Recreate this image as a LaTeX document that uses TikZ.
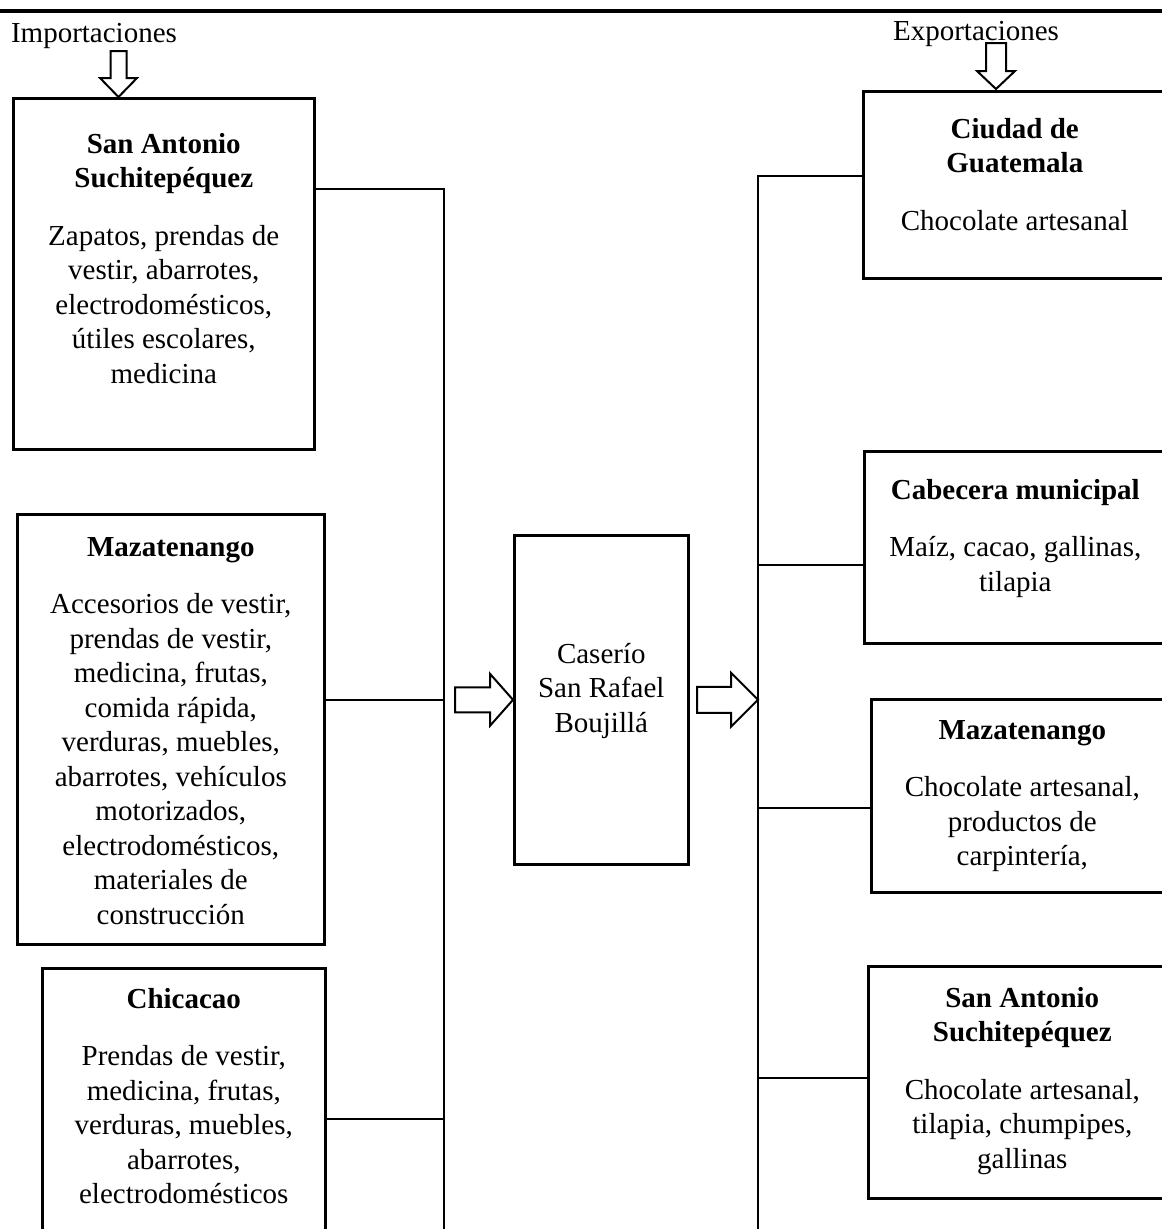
\documentclass[tikz,border=0pt]{standalone}
\usepackage{fontspec}
\setmainfont{Liberation Serif}
% caja de texto: ancho, alto, base de la primera linea, contenido
\newcommand{\contenido}[4]{\parbox[c][#2][t]{#1}{\centering\rule{0pt}{#3}#4}}
\tikzset{
  caja/.style={draw, line width=2.6pt, inner sep=0pt, anchor=north west},
  linea/.style={line width=1.5pt},
  flecha/.style={draw, line width=2pt, fill=white, line join=miter}
}
\begin{document}
\begin{tikzpicture}[x=1pt, y=-1pt, font=\fontsize{29}{34.5}\selectfont]
  \clip (0,0) rectangle (1162,1229);
  \draw[line width=4pt] (0,11) -- (1162,11);
  \node[anchor=base] (imp) at (94,42) {Importaciones};
  \node[anchor=base] (exp) at (976,40) {Exportaciones};
  % importaciones
  \node[caja] (sa1) at (12,97) {\contenido{301pt}{351pt}{55pt}{%
    {\bfseries San Antonio\\Suchitep\'equez}\\[23pt]
    Zapatos, prendas de\\vestir, abarrotes,\\electrodom\'esticos,\\
    \'utiles escolares,\\medicina}};
  \node[caja] (mz1) at (16,513) {\contenido{307pt}{430pt}{42pt}{%
    {\bfseries Mazatenango}\\[23pt]
    Accesorios de vestir,\\prendas de vestir,\\medicina, frutas,\\
    comida r\'apida,\\verduras, muebles,\\abarrotes, veh\'iculos\\
    motorizados,\\electrodom\'esticos,\\materiales de\\construcci\'on}};
  \node[caja] (ch1) at (41,967) {\contenido{283pt}{300pt}{40pt}{%
    {\bfseries Chicacao}\\[23pt]
    Prendas de vestir,\\medicina, frutas,\\verduras, muebles,\\
    abarrotes,\\electrodom\'esticos}};
  % caserio
  \node[caja] (centro) at (513,534) {\contenido{174pt}{329pt}{128pt}{%
    Caser\'io\\San Rafael\\Boujill\'a}};
  % exportaciones
  \node[caja] (gt) at (862,90) {\contenido{303pt}{187pt}{47pt}{%
    {\bfseries Ciudad de\\Guatemala}\\[23pt]
    Chocolate artesanal}};
  \node[caja] (cm) at (863,450) {\contenido{302pt}{192pt}{48pt}{%
    {\bfseries Cabecera municipal}\\[23pt]
    Ma\'iz, cacao, gallinas,\\tilapia}};
  \node[caja] (mz2) at (870,698) {\contenido{302pt}{193pt}{40pt}{%
    {\bfseries Mazatenango}\\[23pt]
    Chocolate artesanal,\\productos de\\carpinter\'ia,}};
  \node[caja] (sa2) at (867,965) {\contenido{308pt}{232pt}{41pt}{%
    {\bfseries San Antonio\\Suchitep\'equez}\\[23pt]
    Chocolate artesanal,\\tilapia, chumpipes,\\gallinas}};
  % lineas de union
  \coordinate (bi1) at (444,189);
  \coordinate (bi2) at (444,700);
  \coordinate (bi3) at (444,1119);
  \coordinate (bifin) at (444,1229);
  \draw[linea] (sa1.east |- bi1) -- (bi1) -- (bifin);
  \draw[linea] (mz1.east |- bi2) -- (bi2);
  \draw[linea] (ch1.east |- bi3) -- (bi3);
  \coordinate (be1) at (758,176);
  \coordinate (be2) at (758,565);
  \coordinate (be3) at (758,808);
  \coordinate (be4) at (758,1078);
  \coordinate (befin) at (758,1229);
  \draw[linea] (gt.west |- be1) -- (be1) -- (befin);
  \draw[linea] (cm.west |- be2) -- (be2);
  \draw[linea] (mz2.west |- be3) -- (be3);
  \draw[linea] (sa2.west |- be4) -- (be4);
  % flechas
  \draw[flecha, shift={(118.5,97)}] (0,0) -- (-18.5,-19) -- (-8,-19)
    -- (-8,-46) -- (8,-46) -- (8,-19) -- (18.5,-19) -- cycle;
  \draw[flecha, shift={(996,89)}] (0,0) -- (-19,-18) -- (-10,-18)
    -- (-10,-46) -- (10,-46) -- (10,-18) -- (19,-18) -- cycle;
  \draw[flecha, shift={(centro.west)}] (0,0) -- (-23,-26) -- (-23,-12.5)
    -- (-58,-12.5) -- (-58,12.5) -- (-23,12.5) -- (-23,26) -- cycle;
  \draw[flecha, shift={(centro.east -| be1)}] (0,0) -- (-27,-27) -- (-27,-13)
    -- (-61,-13) -- (-61,13) -- (-27,13) -- (-27,27) -- cycle;
\end{tikzpicture}
\end{document}
